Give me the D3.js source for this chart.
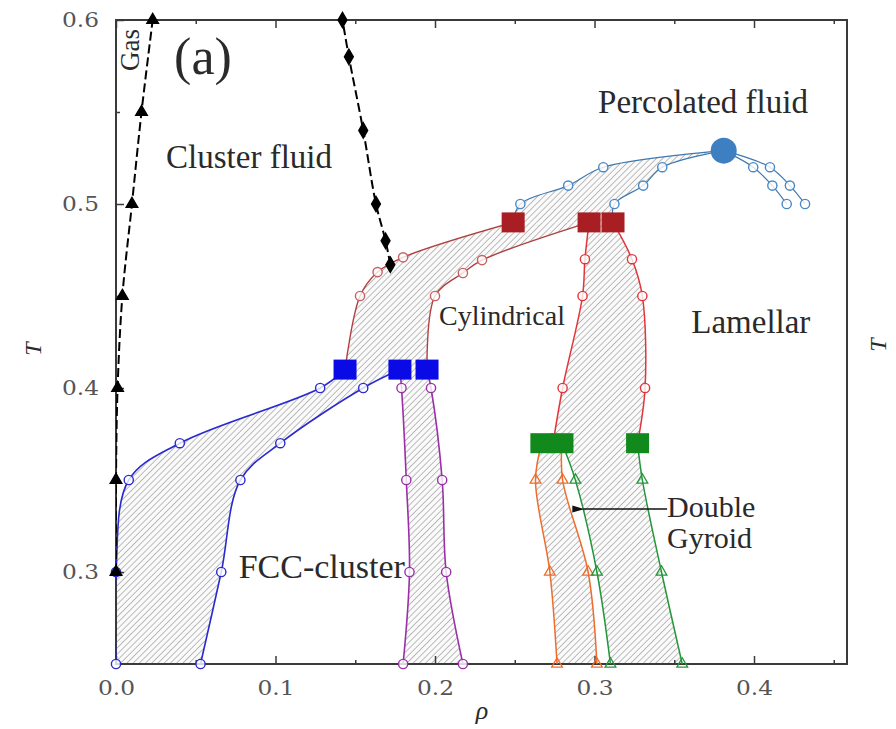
<!DOCTYPE html>
<html>
<head>
<meta charset="utf-8">
<script src="https://cdn.jsdelivr.net/npm/d3@7"></script>
<style>
  body { margin: 0; background: #fff; }
  svg text { font-family: "Liberation Serif", "DejaVu Serif", serif; fill: #2a2a2a; }
  .tick text { font-family: "DejaVu Serif", serif; fill: #555; }
</style>
</head>
<body>
<div id="viz"></div>
<script>
// phase diagram, every point is [rho, T]

// axis ticks
var xTicks = [0.0, 0.1, 0.2, 0.3, 0.4];
var xMinor = [0.05, 0.15, 0.25, 0.35, 0.45];
var yTicks = [0.3, 0.4, 0.5, 0.6];
var yMinor = [0.35, 0.45, 0.55];

// gas / cluster fluid line (black triangles) and cluster fluid / percolated line (black diamonds)
var gasLine = [[0.0, 0.30], [0.0, 0.35], [0.001, 0.40], [0.004, 0.45], [0.010, 0.50], [0.016, 0.55], [0.023, 0.60]];
var clusterLine = [[0.172, 0.467], [0.169, 0.48], [0.163, 0.50], [0.155, 0.54], [0.146, 0.58], [0.142, 0.60]];

// triple points (squares) and critical point
var blueSquares = [[0.1436, 0.41], [0.178, 0.41], [0.195, 0.41]];
var redSquares = [[0.249, 0.49], [0.2966, 0.49], [0.3116, 0.49]];
var greenSquares = [[0.267, 0.37], [0.2796, 0.37], [0.327, 0.37]];
var critPoint = [0.381, 0.529];
var lamEnd = [0.274, 0.37];

// fluid / FCC-cluster coexistence (blue circles)
var fccLeft = [[0.0, 0.25], [0.0, 0.30], [0.008, 0.35], [0.040, 0.37], [0.128, 0.40]];
var fccRight = [[0.053, 0.25], [0.066, 0.30], [0.078, 0.35], [0.103, 0.37], [0.155, 0.40]];

// FCC-cluster / cylindrical coexistence (purple circles)
var purpleLeft = [[0.180, 0.25], [0.184, 0.30], [0.182, 0.35], [0.179, 0.40]];
var purpleRight = [[0.2175, 0.25], [0.207, 0.30], [0.2045, 0.35], [0.1975, 0.40]];

// fluid / cylindrical coexistence (dark red circles)
var cylLeft = [[0.153, 0.45], [0.164, 0.463], [0.180, 0.471]];
var cylRight = [[0.200, 0.45], [0.2175, 0.4625], [0.2295, 0.4695]];

// fluid / percolated fluid (light blue circles)
var percUpper = [[0.2535, 0.50], [0.2835, 0.51], [0.3055, 0.52]];
var percLower = [[0.3125, 0.50], [0.3305, 0.51], [0.3425, 0.52]];
var percRightA = [[0.3995, 0.52], [0.4115, 0.51], [0.4205, 0.50]];
var percRightB = [[0.410, 0.52], [0.4225, 0.51], [0.432, 0.50]];

// cylindrical / lamellar coexistence (red circles)
var lamLeft = [[0.280, 0.40], [0.2925, 0.45], [0.294, 0.47]];
var lamRight = [[0.3317, 0.40], [0.330, 0.45], [0.3235, 0.47]];

// cylindrical / gyroid (orange triangles) and gyroid / lamellar (green triangles)
var orangeLeft = [[0.2765, 0.25], [0.272, 0.30], [0.263, 0.35]];
var orangeRight = [[0.3015, 0.25], [0.296, 0.30], [0.280, 0.35]];
var greenLeft = [[0.310, 0.25], [0.3015, 0.30], [0.288, 0.35]];
var greenRight = [[0.355, 0.25], [0.342, 0.30], [0.330, 0.35]];

// phase labels
var labels = [
  {text: "Cluster fluid", at: [0.0834, 0.5196], size: 33},
  {text: "Percolated fluid", at: [0.368, 0.5495], size: 33},
  {text: "Cylindrical", at: [0.242, 0.434], size: 28},
  {text: "Lamellar", at: [0.398, 0.430], size: 33},
  {text: "FCC-cluster", at: [0.129, 0.297], size: 34}
];

// set the dimensions and margins of the graph
var w = 896;
var h = 729;
var margin = {top: 20, right: 49, bottom: 65, left: 116};
var figw = w - margin.left - margin.right;
var figh = h - margin.top - margin.bottom;

var x = d3.scaleLinear().domain([0, 0.4583]).range([0, figw]);
var y = d3.scaleLinear().domain([0.25, 0.6]).range([figh, 0]);

var root = d3.select("div#viz")
  .append("svg")
  .attr("width", w)
  .attr("height", h);

var defs = root.append("defs");

// diagonal hatching for coexistence regions
var pat = defs.append("pattern")
  .attr("id", "hatch")
  .attr("patternUnits", "userSpaceOnUse")
  .attr("width", 4.4)
  .attr("height", 4.4)
  .attr("patternTransform", "rotate(45)");
pat.append("rect").attr("width", 4.4).attr("height", 4.4).attr("fill", "#fafafa");
pat.append("line")
  .attr("x1", 0).attr("y1", 0).attr("x2", 0).attr("y2", 4.4)
  .attr("stroke", "#8a8a8a")
  .attr("stroke-width", 1.1);

defs.append("clipPath").attr("id", "plotclip")
  .append("rect").attr("width", figw).attr("height", figh);

defs.append("marker")
  .attr("id", "arrow")
  .attr("viewBox", "0 0 12 8")
  .attr("refX", 1)
  .attr("refY", 4)
  .attr("markerWidth", 12)
  .attr("markerHeight", 8)
  .attr("markerUnits", "userSpaceOnUse")
  .attr("orient", "auto-start-reverse")
  .append("path")
  .attr("d", "M0,4 L12,0.5 L12,7.5 Z")
  .attr("fill", "#111");

var svg = root.append("g")
  .attr("transform", "translate(" + margin.left + "," + margin.top + ")");

// line generators
var smooth = d3.line()
  .x(function (d) { return x(d[0]); })
  .y(function (d) { return y(d[1]); })
  .curve(d3.curveCatmullRom.alpha(0.5));

// closed region from two boundaries, both given from bottom to top
function region(left, right) {
  var a = smooth(left);
  var b = smooth(right.slice().reverse());
  return a + "L" + b.slice(1) + "Z";
}

var regions = [
  [fccLeft.concat([blueSquares[0]]), fccRight.concat([blueSquares[1]])],
  [purpleLeft.concat([blueSquares[1]]), purpleRight.concat([blueSquares[2]])],
  [[blueSquares[0]].concat(cylLeft, [redSquares[0]]), [blueSquares[2]].concat(cylRight, [redSquares[1]])],
  [[redSquares[0]].concat(percUpper, [critPoint]), [redSquares[2]].concat(percLower, [critPoint])],
  [[lamEnd].concat(lamLeft, [redSquares[1]]), [greenSquares[2]].concat(lamRight, [redSquares[2]])],
  [orangeLeft.concat([greenSquares[0]]), orangeRight.concat([greenSquares[1]])],
  [greenLeft.concat([greenSquares[1]]), greenRight.concat([greenSquares[2]])]
];

var hatchG = svg.append("g").attr("clip-path", "url(#plotclip)");
hatchG.selectAll("path.region")
  .data(regions)
  .enter()
  .append("path")
  .attr("class", "region")
  .attr("d", function (d) { return region(d[0], d[1]); })
  .attr("fill", "url(#hatch)")
  .attr("stroke", "none");

// frame
svg.append("rect")
  .attr("width", figw)
  .attr("height", figh)
  .attr("fill", "none")
  .attr("stroke", "#3a3a3a")
  .attr("stroke-width", 2);

// axes, ticks point inwards
var xAxis = d3.axisBottom(x).tickValues(xTicks).tickSizeInner(-8).tickSizeOuter(0)
  .tickPadding(16).tickFormat(d3.format(".1f"));
svg.append("g").attr("class", "axis").attr("transform", "translate(0," + figh + ")").call(xAxis);
svg.append("g").attr("transform", "translate(0," + figh + ")")
  .call(d3.axisBottom(x).tickValues(xMinor).tickSizeInner(-4).tickSizeOuter(0).tickFormat(""));
svg.append("g").call(d3.axisTop(x).tickValues(xTicks).tickSizeInner(-8).tickSizeOuter(0).tickFormat(""));
svg.append("g").call(d3.axisTop(x).tickValues(xMinor).tickSizeInner(-4).tickSizeOuter(0).tickFormat(""));

var yAxis = d3.axisLeft(y).tickValues(yTicks).tickSizeInner(-8).tickSizeOuter(0)
  .tickPadding(17).tickFormat(d3.format(".1f"));
svg.append("g").attr("class", "axis").call(yAxis);
svg.append("g").call(d3.axisLeft(y).tickValues(yMinor).tickSizeInner(-4).tickSizeOuter(0).tickFormat(""));

svg.selectAll(".domain").remove();
svg.selectAll(".tick line").attr("stroke", "#3a3a3a").attr("stroke-width", 1.5);
svg.selectAll(".axis .tick text")
  .style("font-size", "21px")
  .attr("textLength", 37)
  .attr("lengthAdjust", "spacingAndGlyphs");

// boundary lines
function drawLine(pts, color, width, dash) {
  svg.append("path")
    .attr("d", smooth(pts))
    .attr("fill", "none")
    .attr("stroke", color)
    .attr("stroke-width", width)
    .attr("stroke-dasharray", dash || null)
    .attr("clip-path", "url(#plotclip)");
}

var cBlue = "#2a2ad0";
var cPurple = "#9a2fa8";
var cCyl = "#b04040";
var cLam = "#e3343a";
var cPerc = "#4a88c6";
var cOrange = "#ee6c2c";
var cGreen = "#23963a";

drawLine(fccLeft.concat([blueSquares[0]]), cBlue, 1.6);
drawLine(fccRight.concat([blueSquares[1]]), cBlue, 1.6);
drawLine(purpleLeft.concat([blueSquares[1]]), cPurple, 1.6);
drawLine(purpleRight.concat([blueSquares[2]]), cPurple, 1.6);
drawLine([blueSquares[0]].concat(cylLeft, [redSquares[0]]), cCyl, 1.4);
drawLine([blueSquares[2]].concat(cylRight, [redSquares[1]]), cCyl, 1.4);
drawLine([redSquares[0]].concat(percUpper, [critPoint]), "#3f78b0", 1.2);
drawLine([redSquares[2]].concat(percLower, [critPoint]), "#3f78b0", 1.2);
drawLine([critPoint].concat(percRightA), "#3f78b0", 1.2);
drawLine([critPoint].concat(percRightB), "#3f78b0", 1.2);
drawLine([lamEnd].concat(lamLeft, [redSquares[1]]), cLam, 1.5);
drawLine([greenSquares[2]].concat(lamRight, [redSquares[2]]), cLam, 1.5);
drawLine(orangeLeft.concat([greenSquares[0]]), cOrange, 1.5);
drawLine(orangeRight.concat([greenSquares[1]]), cOrange, 1.5);
drawLine(greenLeft.concat([greenSquares[1]]), cGreen, 1.5);
drawLine(greenRight.concat([greenSquares[2]]), cGreen, 1.5);

drawLine(gasLine, "#000", 2, "9,4");
drawLine(clusterLine, "#000", 2, "9,4");

// open circles
function drawCircles(pts, color) {
  svg.append("g").selectAll("circle")
    .data(pts)
    .enter()
    .append("circle")
    .attr("cx", function (d) { return x(d[0]); })
    .attr("cy", function (d) { return y(d[1]); })
    .attr("r", 4.6)
    .attr("fill", "#fff")
    .attr("fill-opacity", 0.8)
    .attr("stroke", color)
    .attr("stroke-width", 1.4);
}

drawCircles(fccLeft, cBlue);
drawCircles(fccRight, cBlue);
drawCircles(purpleLeft, cPurple);
drawCircles(purpleRight, cPurple);
drawCircles(cylLeft, "#c86060");
drawCircles(cylRight, "#c86060");
drawCircles(percUpper.concat(percLower, percRightA, percRightB), cPerc);
drawCircles(lamLeft, cLam);
drawCircles(lamRight, cLam);

// symbols (triangles, diamonds)
function drawSymbols(pts, type, size, fill, stroke) {
  svg.append("g").selectAll("path")
    .data(pts)
    .enter()
    .append("path")
    .attr("d", d3.symbol().type(type).size(size))
    .attr("transform", function (d) { return "translate(" + x(d[0]) + "," + y(d[1]) + ")"; })
    .attr("fill", fill)
    .attr("stroke", stroke)
    .attr("stroke-width", 1.3);
}

drawSymbols(orangeLeft.concat(orangeRight), d3.symbolTriangle, 50, "none", cOrange);
drawSymbols(greenLeft.concat(greenRight), d3.symbolTriangle, 50, "none", cGreen);
drawSymbols(gasLine, d3.symbolTriangle, 60, "#000", "#000");
drawSymbols(clusterLine, d3.symbolDiamond, 70, "#000", "#000");

// triple point squares
function drawSquares(pts, color) {
  svg.append("g").selectAll("rect")
    .data(pts)
    .enter()
    .append("rect")
    .attr("x", function (d) { return x(d[0]) - 11.5; })
    .attr("y", function (d) { return y(d[1]) - 10; })
    .attr("width", 23)
    .attr("height", 20)
    .attr("fill", color);
}

drawSquares(blueSquares, "#0a0ae6");
drawSquares(redSquares, "#a81e22");
drawSquares(greenSquares, "#12891c");

// critical point
svg.append("circle")
  .attr("cx", x(critPoint[0]))
  .attr("cy", y(critPoint[1]))
  .attr("r", 13)
  .attr("fill", "#3d7fc0");

// phase labels
svg.append("g").selectAll("text")
  .data(labels)
  .enter()
  .append("text")
  .attr("x", function (d) { return x(d.at[0]); })
  .attr("y", function (d) { return y(d.at[1]); })
  .attr("text-anchor", "middle")
  .style("font-size", function (d) { return d.size + "px"; })
  .text(function (d) { return d.text; });

svg.append("text")
  .attr("x", x(0.0545))
  .attr("y", y(0.5705))
  .attr("text-anchor", "middle")
  .style("font-size", "52px")
  .text("(a)");

svg.append("text")
  .attr("transform", "translate(" + x(0.0083) + "," + y(0.5837) + ") rotate(-90)")
  .attr("text-anchor", "middle")
  .attr("dy", "0.35em")
  .style("font-size", "27px")
  .text("Gas");

// double gyroid arrow and label
svg.append("line")
  .attr("x1", x(0.3455))
  .attr("y1", y(0.3342))
  .attr("x2", x(0.293))
  .attr("y2", y(0.3342))
  .attr("stroke", "#111")
  .attr("stroke-width", 1.6)
  .attr("marker-end", "url(#arrow)");

svg.append("text")
  .attr("x", x(0.3455))
  .attr("y", y(0.3299))
  .style("font-size", "30px")
  .text("Double");

svg.append("text")
  .attr("x", x(0.3455))
  .attr("y", y(0.3130))
  .style("font-size", "30px")
  .text("Gyroid");

// axis labels
svg.append("text")
  .attr("transform", "translate(" + (-83) + "," + (figh / 2 + 7) + ") rotate(-90)")
  .attr("text-anchor", "middle")
  .attr("dy", "0.35em")
  .style("font-size", "24px")
  .style("font-style", "italic")
  .text("T");

svg.append("text")
  .attr("transform", "translate(" + (figw + 31) + "," + (figh / 2 + 3) + ") rotate(-90)")
  .attr("text-anchor", "middle")
  .attr("dy", "0.35em")
  .style("font-size", "24px")
  .style("font-style", "italic")
  .text("T");

svg.append("text")
  .attr("x", x(0.2295))
  .attr("y", figh + 55)
  .attr("text-anchor", "middle")
  .style("font-size", "26px")
  .style("font-style", "italic")
  .text("ρ");
</script>
</body>
</html>
